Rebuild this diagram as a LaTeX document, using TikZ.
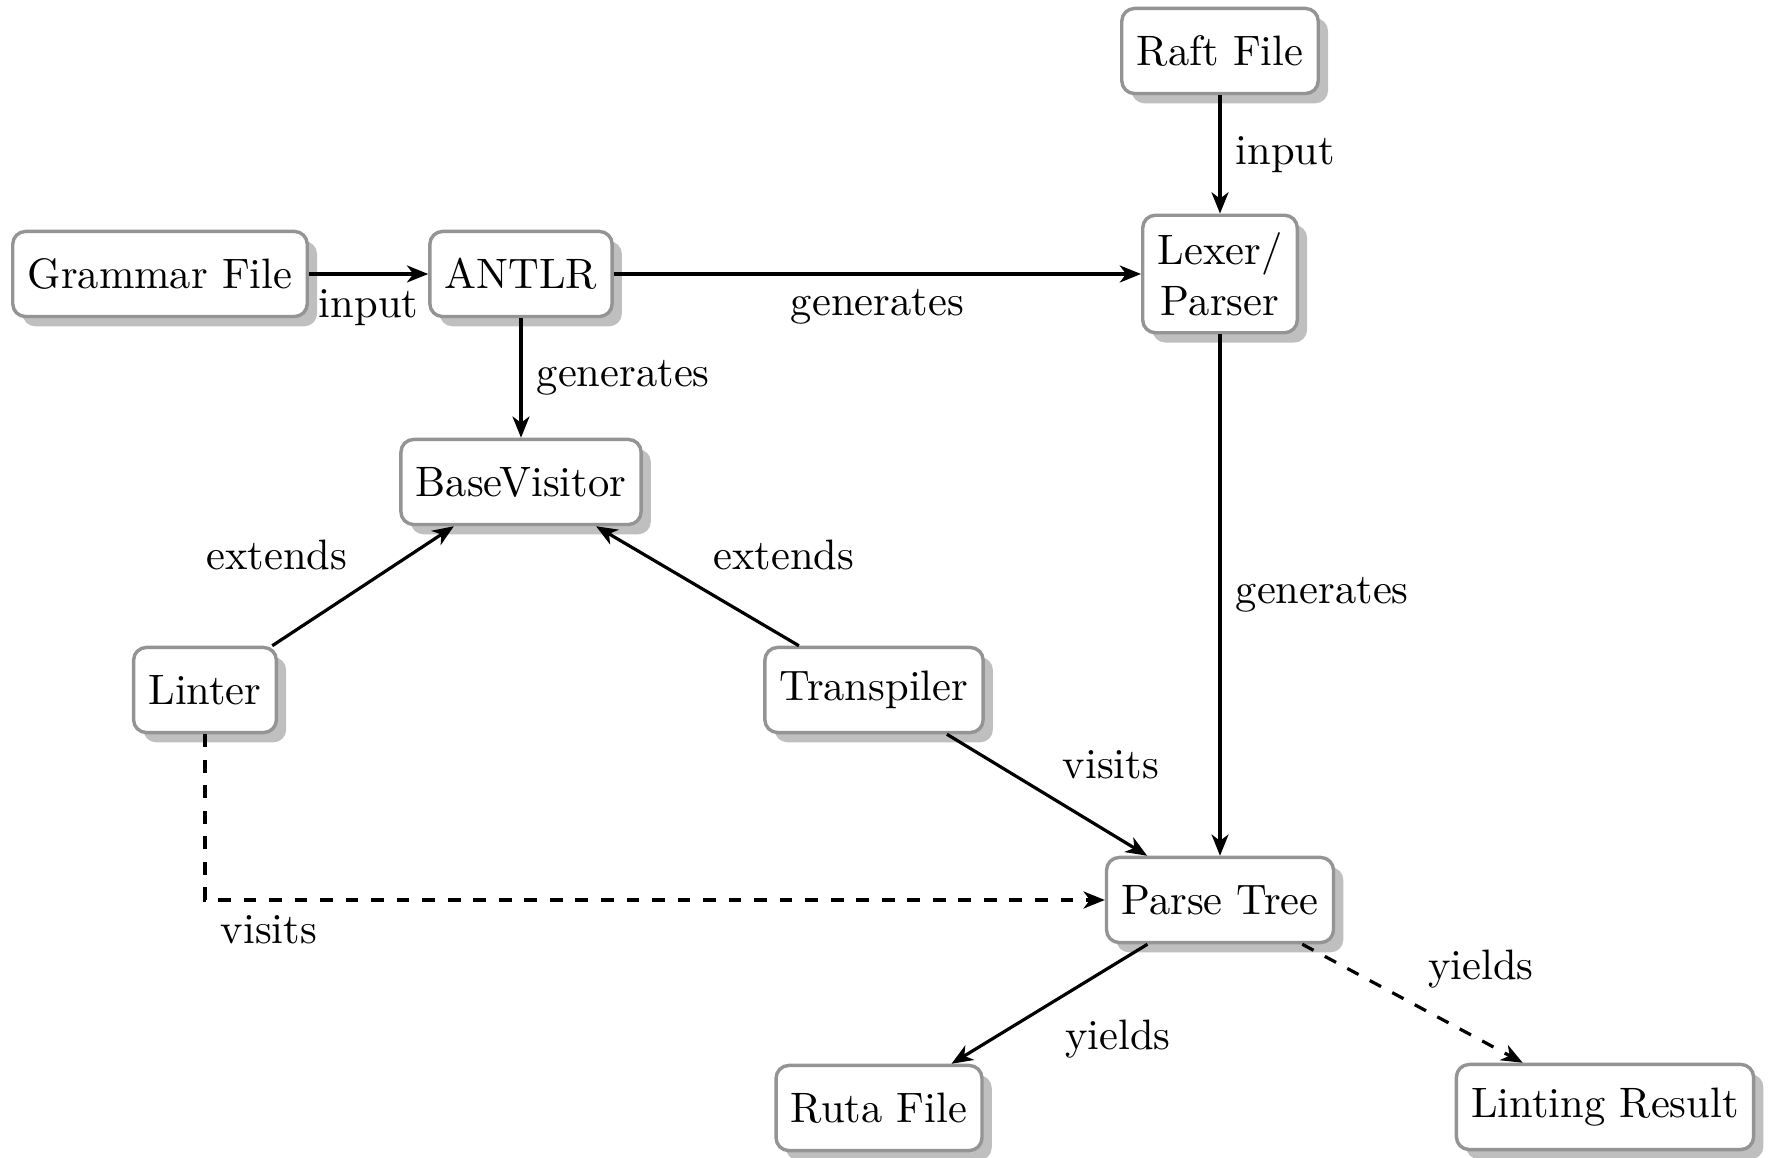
\documentclass[tikz,border=0pt]{standalone}
\usetikzlibrary{arrows.meta,shadows}
\begin{document}
\begin{tikzpicture}[x=0.235pt,y=-0.235pt,
  box/.style={draw=black!42, line width=0.8pt, fill=white, rounded corners=3pt,
    inner xsep=3.5pt, inner ysep=4pt, minimum height=20pt, align=center,
    drop shadow={fill=black!25, opacity=1, shadow xshift=2.3pt, shadow yshift=-2.3pt}},
  flow/.style={line width=0.75pt, -{Stealth[length=5pt,width=4pt,inset=1.5pt]}}]
\useasboundingbox (0,0) rectangle (1769,1158);

% components
\node[box] (grammar) at (160,274)  {Grammar File};
\node[box] (antlr)   at (521,274)  {ANTLR};
\node[box] (raft)    at (1220,51)  {Raft File};
\node[box] (lexer)   at (1220,274) {Lexer/\\Parser};
\node[box] (base)    at (521,482)  {BaseVisitor};
\node[box] (linter)  at (205,690)  {Linter};
\node[box] (trans)   at (874,690)  {Transpiler};
\node[box] (parse)   at (1220,900) {Parse Tree};
\node[box] (ruta)    at (879,1108) {Ruta File};
\node[box] (lint)    at (1605,1107) {Linting Result};

% relations
\draw[flow] (grammar) -- node[below] {input} (antlr);
\draw[flow] (antlr) -- node[below] {generates} (lexer);
\draw[flow] (raft) -- node[right] {input} (lexer);
\draw[flow] (antlr) -- node[right] {generates} (base);
\draw[flow] (lexer) -- node[right] {generates} (parse);
\draw[flow] (linter) -- node[above left] {extends} (base);
\draw[flow] (trans) -- node[above right] {extends} (base);
\draw[flow] (trans) -- node[above right] {visits} (parse);
\draw[flow,dashed] (linter) |- node[below right] {visits} (parse);
\draw[flow] (parse) -- node[below right] {yields} (ruta);
\draw[flow,dashed] (parse) -- node[above right] {yields} (lint);
\end{tikzpicture}
\end{document}
